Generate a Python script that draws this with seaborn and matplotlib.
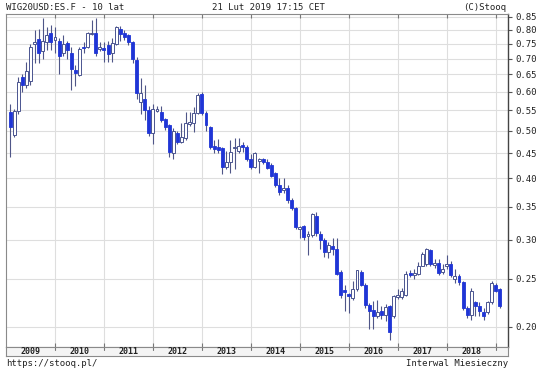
import numpy as np
import pandas as pd
import matplotlib
matplotlib.use("Agg")
import matplotlib.pyplot as plt
import seaborn as sns

# ---- data (monthly candles, Feb 2009 .. Feb 2019) ----
months = pd.date_range("2009-02-01", "2019-02-01", freq="MS")
opens = [0.545, 0.489, 0.548, 0.642, 0.620, 0.630, 0.748, 0.768, 0.725, 0.755, 0.788,
         0.765, 0.760, 0.718, 0.752, 0.720, 0.665, 0.648, 0.740, 0.740, 0.785, 0.790, 0.733,
         0.735, 0.745, 0.718, 0.750, 0.805, 0.790, 0.780, 0.756, 0.695, 0.570, 0.580, 0.550,
         0.494, 0.548, 0.545, 0.527, 0.512, 0.450, 0.495, 0.474, 0.483, 0.515, 0.518, 0.543,
         0.592, 0.543, 0.508, 0.466, 0.463, 0.460, 0.422, 0.432, 0.460, 0.455, 0.467, 0.463,
         0.437, 0.422, 0.434, 0.437, 0.431, 0.426, 0.410, 0.388, 0.378, 0.383, 0.362, 0.348,
         0.316, 0.320, 0.305, 0.307, 0.336, 0.308, 0.300, 0.283, 0.292, 0.288, 0.258, 0.237,
         0.233, 0.229, 0.238, 0.258, 0.243, 0.221, 0.216, 0.210, 0.215, 0.211, 0.220, 0.210,
         0.230, 0.230, 0.232, 0.257, 0.254, 0.256, 0.266, 0.268, 0.286, 0.267, 0.269, 0.258,
         0.265, 0.268, 0.250, 0.253, 0.246, 0.218, 0.211, 0.224, 0.220, 0.214, 0.214, 0.224,
         0.243, 0.238]
highs = [0.567, 0.553, 0.642, 0.651, 0.690, 0.750, 0.800, 0.805, 0.845, 0.810, 0.820,
         0.810, 0.770, 0.780, 0.760, 0.740, 0.680, 0.740, 0.755, 0.792, 0.840, 0.845, 0.757,
         0.755, 0.760, 0.770, 0.815, 0.815, 0.800, 0.785, 0.760, 0.705, 0.640, 0.620, 0.560,
         0.565, 0.562, 0.560, 0.530, 0.515, 0.506, 0.498, 0.518, 0.545, 0.545, 0.558, 0.597,
         0.598, 0.548, 0.510, 0.478, 0.480, 0.462, 0.455, 0.478, 0.483, 0.483, 0.473, 0.467,
         0.448, 0.452, 0.440, 0.440, 0.437, 0.430, 0.412, 0.400, 0.400, 0.387, 0.364, 0.350,
         0.320, 0.322, 0.312, 0.340, 0.342, 0.312, 0.303, 0.297, 0.303, 0.303, 0.260, 0.243,
         0.234, 0.247, 0.261, 0.260, 0.245, 0.223, 0.225, 0.226, 0.220, 0.222, 0.221, 0.232,
         0.238, 0.240, 0.259, 0.261, 0.262, 0.270, 0.283, 0.289, 0.288, 0.274, 0.274, 0.268,
         0.280, 0.272, 0.262, 0.256, 0.248, 0.220, 0.239, 0.225, 0.224, 0.218, 0.225, 0.248,
         0.245, 0.240]
lows = [0.442, 0.486, 0.541, 0.599, 0.610, 0.619, 0.686, 0.686, 0.700, 0.730, 0.730,
        0.720, 0.652, 0.710, 0.700, 0.605, 0.616, 0.645, 0.718, 0.735, 0.780, 0.710, 0.725,
        0.690, 0.690, 0.690, 0.745, 0.760, 0.765, 0.745, 0.686, 0.580, 0.540, 0.525, 0.488,
        0.470, 0.545, 0.520, 0.502, 0.442, 0.437, 0.470, 0.472, 0.478, 0.510, 0.497, 0.540,
        0.538, 0.500, 0.458, 0.450, 0.450, 0.408, 0.417, 0.410, 0.418, 0.450, 0.452, 0.433,
        0.417, 0.420, 0.410, 0.427, 0.417, 0.402, 0.384, 0.370, 0.374, 0.357, 0.345, 0.316,
        0.302, 0.300, 0.280, 0.304, 0.306, 0.288, 0.277, 0.276, 0.279, 0.255, 0.229, 0.215,
        0.213, 0.226, 0.236, 0.242, 0.218, 0.198, 0.198, 0.208, 0.207, 0.205, 0.188, 0.208,
        0.228, 0.228, 0.231, 0.252, 0.250, 0.254, 0.265, 0.266, 0.266, 0.263, 0.254, 0.256,
        0.262, 0.252, 0.245, 0.243, 0.216, 0.208, 0.206, 0.210, 0.210, 0.206, 0.212, 0.222,
        0.235, 0.218]
closes = [0.508, 0.548, 0.628, 0.619, 0.660, 0.740, 0.755, 0.719, 0.760, 0.780, 0.755,
          0.775, 0.710, 0.750, 0.728, 0.667, 0.655, 0.732, 0.734, 0.788, 0.790, 0.720, 0.738,
          0.728, 0.715, 0.752, 0.810, 0.785, 0.775, 0.755, 0.700, 0.597, 0.595, 0.550, 0.495,
          0.552, 0.553, 0.526, 0.508, 0.452, 0.500, 0.475, 0.485, 0.518, 0.520, 0.543, 0.590,
          0.543, 0.512, 0.462, 0.459, 0.457, 0.422, 0.432, 0.452, 0.463, 0.466, 0.463, 0.437,
          0.422, 0.450, 0.438, 0.431, 0.420, 0.405, 0.388, 0.375, 0.383, 0.362, 0.348, 0.318,
          0.319, 0.304, 0.308, 0.338, 0.310, 0.300, 0.283, 0.293, 0.287, 0.256, 0.232, 0.235,
          0.231, 0.238, 0.260, 0.243, 0.221, 0.215, 0.210, 0.214, 0.211, 0.219, 0.195, 0.231,
          0.232, 0.236, 0.256, 0.255, 0.257, 0.266, 0.281, 0.287, 0.268, 0.269, 0.257, 0.262,
          0.268, 0.254, 0.253, 0.246, 0.218, 0.211, 0.236, 0.220, 0.215, 0.210, 0.224, 0.245,
          0.236, 0.220]
years = list(range(2009, 2019))
y_ticks = [0.20, 0.25, 0.30, 0.35, 0.40, 0.45, 0.50, 0.55, 0.60, 0.65, 0.70, 0.75, 0.80, 0.85]

df = pd.DataFrame({"date": months, "open": opens, "high": highs, "low": lows, "close": closes})
df["m"] = (df["date"].dt.year - 2009) * 12 + df["date"].dt.month - 1
df["up"] = df["close"] >= df["open"]

sns.set_theme(style="white")
plt.rcParams["font.family"] = ["DejaVu Sans Mono"]

W, H = 536, 371
fig = plt.figure(figsize=(W / 100, H / 100), dpi=100)
fig.patch.set_facecolor("white")

L, R, T, B = 6, 508, 14, 347
ax = fig.add_axes([L / W, 1 - B / H, (R - L) / W, (B - T) / H])
ax.set_yscale("log")
ax.set_xlim(0, 123.0)
ax.set_ylim(0.1818, 0.862)

BLUE = "#1f35d6"
EDGE = "#4a5490"
WICK = "#4f5688"

# grid
for yt in y_ticks:
    ax.axhline(yt, color="#dedede", lw=0.8, zorder=0)
for k in range(1, 11):
    ax.axvline(12 * k, color="#dedede", lw=0.8, zorder=0)

# wicks
ax.vlines(df["m"], df["low"], df["high"], color=WICK, lw=0.8, zorder=2)
# bodies
bw = 0.72
up = df[df["up"]]
dn = df[~df["up"]]
ax.bar(up["m"], up["close"] - up["open"], bottom=up["open"], width=bw,
       facecolor="white", edgecolor=EDGE, linewidth=0.7, zorder=3)
ax.bar(dn["m"], dn["open"] - dn["close"], bottom=dn["close"], width=bw,
       facecolor=BLUE, edgecolor=BLUE, linewidth=0.6, zorder=3)

# axes styling
ax.yaxis.tick_right()
ax.set_yticks(y_ticks)
ax.set_yticklabels([f"{v:.2f}" for v in y_ticks])
ax.yaxis.set_minor_locator(matplotlib.ticker.NullLocator())
ax.tick_params(axis="y", which="major", direction="out", length=3, width=0.8,
               color="#555555", labelsize=6.5, pad=2, labelcolor="#222222")
ax.set_xticks([12 * k for k in range(1, 11)])
ax.tick_params(axis="x", which="major", direction="in", length=3, width=0.8,
               color="#777777", labelbottom=False, top=True, bottom=True)
for s in ["left", "top", "bottom"]:
    ax.spines[s].set_color("#8a8a8a")
    ax.spines[s].set_linewidth(0.8)
ax.spines["right"].set_color("#444444")
ax.spines["right"].set_linewidth(1.0)

# year band
band = fig.add_axes([L / W, 1 - 356 / H, (R - L) / W, 9 / H])
band.set_xlim(0, 123.0)
band.set_ylim(0, 1)
band.set_xticks([])
band.set_yticks([])
band.set_facecolor("#f4f4f4")
for s in band.spines.values():
    s.set_color("#8a8a8a")
    s.set_linewidth(0.8)
for k in range(1, 11):
    band.plot([12 * k, 12 * k], [0.7, 1.0], color="#777777", lw=0.8)
for i, yr in enumerate(years):
    band.text(12 * i + 6, 0.45, str(yr), ha="center", va="center",
              fontsize=6, fontweight="bold", color="#222222")

# header / footer texts
fig.text(6 / W, 1 - 7 / H, "WIG20USD:ES.F - 10 lat", ha="left", va="center",
         fontsize=6.5, color="#222222")
fig.text(268 / W, 1 - 7 / H, "21 Lut 2019 17:15 CET", ha="center", va="center",
         fontsize=6.5, color="#222222")
fig.text(506 / W, 1 - 7 / H, "(C)Stooq", ha="right", va="center",
         fontsize=6.5, color="#222222")
fig.text(6 / W, 1 - 363 / H, "https://stooq.pl/", ha="left", va="center",
         fontsize=6.5, color="#222222")
fig.text(508 / W, 1 - 363 / H, "Interwal Miesieczny", ha="right", va="center",
         fontsize=6.5, color="#222222")

fig.savefig("out.png", dpi=100, facecolor="white")
